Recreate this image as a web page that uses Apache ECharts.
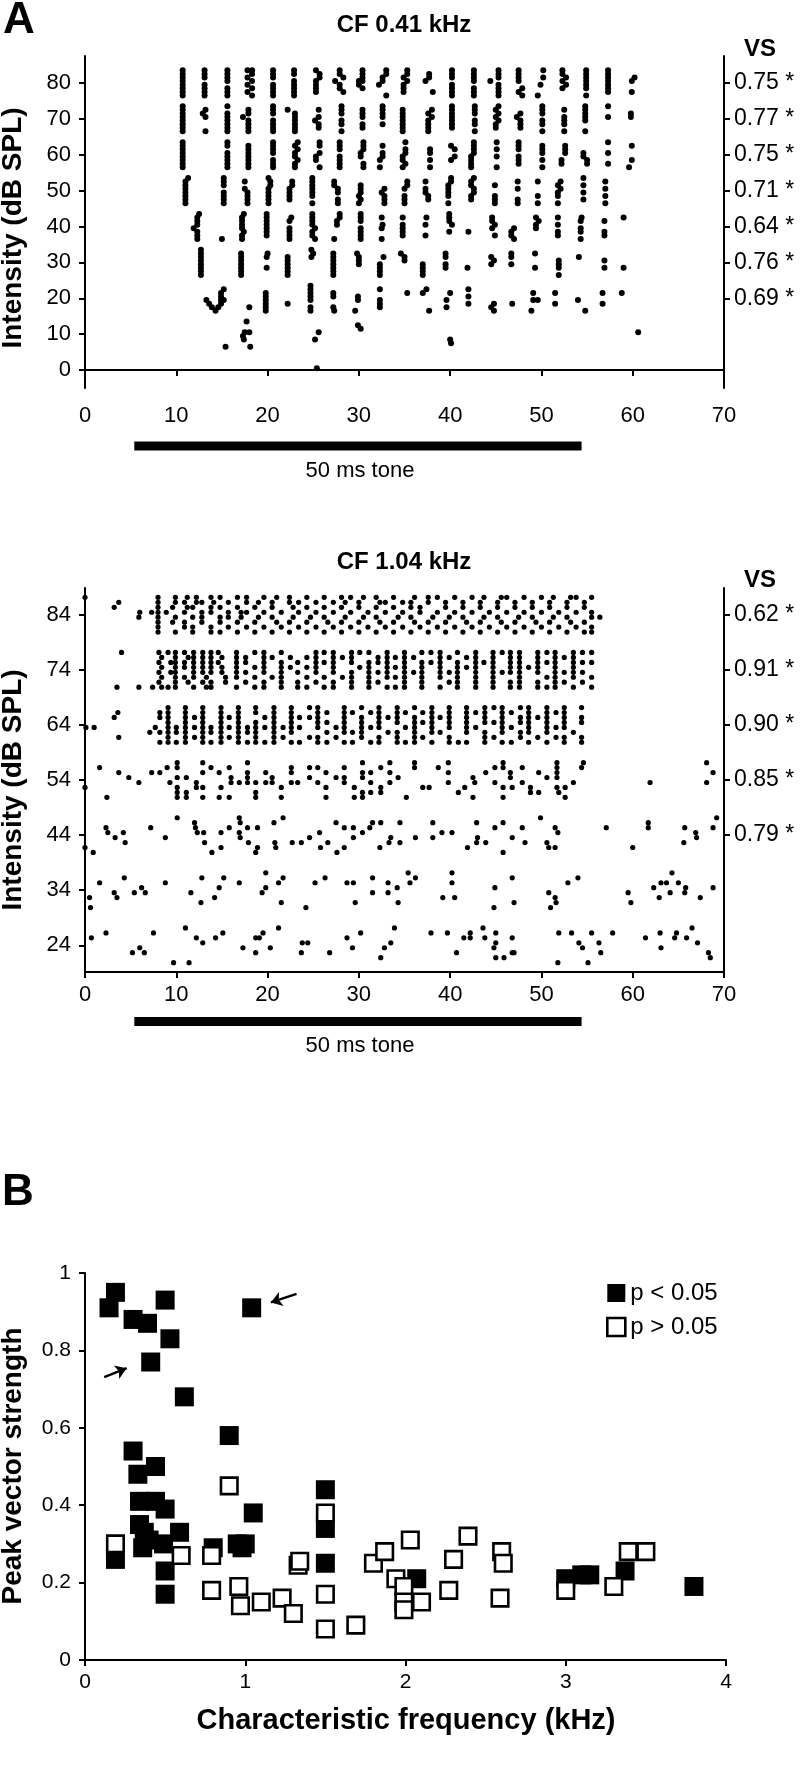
<!DOCTYPE html>
<html><head><meta charset="utf-8">
<script src="https://cdn.jsdelivr.net/npm/echarts@6/dist/echarts.min.js"></script>
<style>html,body{margin:0;padding:0;background:#fff}#c{width:806px;height:1784px}</style>
</head><body><div id="c"></div>
<script>
// ================= DATA =================
const timeMin = 0, timeMax = 70, timeStep = 10;      // ms
const toneWindow = [5.4, 54.4];                      // ms
const toneLabel = '50 ms tone';

// ---- Panel A, top: CF 0.41 kHz ----
const a1Title = 'CF 0.41 kHz';
const a1Levels = [80, 70, 60, 50, 40, 30, 20, 10, 0];           // dB SPL
const a1VSLevels = [80, 70, 60, 50, 40, 30, 20];
const a1VS = ['0.75 *', '0.77 *', '0.75 *', '0.71 *', '0.64 *', '0.76 *', '0.69 *'];
// each token "time(ms):trial indices (0 = lowest trial ... 7 = highest trial)"
const a1Spikes = [
  "10.7:01234567 13.1:0123567 15.6:0124567 17.8:1357 18.3:02467 20.6:0123567 22.9:0123467 25.3:12347 25.7:56 27.4:4 27.9:2367 28.3:15 30.0:34 30.4:24567 32.2:3 32.6:45 33.0:067 34.9:1235 35.3:467 37.3:4 37.7:56 38.1:1 40.2:0123567 42.6:0124567 44.4:4 45.3:0123567 47.5:14567 47.9:02 49.6:0 49.9:3 50.2:57 52.3:2467 52.7:35 54.9:0234567 57.3:1234567 59.9:14 60.2:5",
  "10.7:01234567 12.9:5 13.2:046 15.6:0123457 17.3:4 17.9:012356 20.6:0123567 22.2:6 23.0:012345 25.2:3 25.6:1246 28.1:023567 30.4:12456 32.6:24567 34.8:0123456 37.6:01235 38.0:46 40.2:1234567 42.7:023567 45.0:1246 45.3:357 47.3:4 47.7:1235 50.1:023567 52.5:02346 54.8:034567 57.3:47 59.8:45",
  "10.7:01234567 15.6:0123467 17.9:0123456 20.6:0124567 23.0:01346 23.3:257 25.3:23 25.7:0467 27.9:0123567 30.2:34 30.5:01567 32.3:02 32.6:346 34.8:023 35.1:1457 37.8:0245 40.1:26 40.5:35 42.3:0123 42.6:4567 45.1:0357 47.5:123567 50.1:02456 52.2:12 52.6:456 54.6:34 55.0:12 57.3:147 59.6:0 59.9:26",
  "11.0:0123456 11.3:7 15.2:0123567 17.5:46 17.8:0123 20.1:012347 20.3:56 22.4:1234 22.7:56 24.9:0234567 27.3:56 27.7:0134 30.0:02 30.2:1345 32.5:3 32.8:0124 35.0:0124 35.3:56 37.3:346 37.6:12 39.8:02345 40.1:67 42.3:1256 42.6:347 44.9:0125 47.4:0146 49.6:026 51.8:0235 52.1:46 54.6:1357 57.0:0246",
  "11.9:3 12.3:012456 12.5:7 15.0:0 17.2:013456 17.4:27 19.9:1234567 22.4:01235 22.6:6 24.9:124567 25.2:03 27.3:0 27.6:45 27.9:67 30.2:0123567 32.5:036 32.6:4 34.8:12346 37.3:14 37.4:6 39.9:2567 40.2:4 42.0:2 44.6:356 44.9:14 46.7:12 47.0:03 49.4:346 49.7:5 51.8:1246 54.3:0235 54.4:6 56.9:125 59.0:6",
  "12.7:01234567 17.1:0123456 19.9:25 20.0:6 22.2:012345 24.8:57 25.0:6 27.2:0123456 29.8:6 30.0:345 32.3:0123 32.7:5 34.6:6 35.0:45 37.0:0123 39.5:2356 41.9:2 44.5:35 44.8:4 46.7:356 49.3:26 51.9:0234 54.1:5 56.9:24 59.0:2",
  "13.3:3 13.6:2 13.9:1 14.3:0 14.6:1 14.9:2345 15.2:36 18.0:1 19.8:012345 22.2:2 24.7:0134567 27.2:145 27.3:0 29.6:0 29.9:34 32.3:1236 35.3:5 37.0:5 37.4:6 37.7:0 39.6:13 40.0:5 42.0:246 44.5:1 44.8:02 46.8:2 48.9:0 49.1:35 49.6:3 51.5:25 54.0:3 54.8:0 56.7:25 58.8:5",
  "15.4:0 17.3:3 17.4:2 17.5:4 17.7:7 18.0:4 18.1:0 25.2:2 25.6:4 29.9:6 30.2:5 40.0:2 40.1:1 60.6:4",
  "25.4:4"
];

// ---- Panel A, bottom: CF 1.04 kHz ----
const a2Title = 'CF 1.04 kHz';
const a2Levels = [84, 74, 64, 54, 44, 34, 24];
const a2VSLevels = [84, 74, 64, 54, 44];
const a2VS = ['0.62 *', '0.91 *', '0.90 *', '0.85 *', '0.79 *'];
const a2Spikes = [
  "0.0:7 3.2:5 3.7:6 5.9:3 6.0:4 7.3:4 8.0:01234567 8.9:4 9.6:25 9.9:0367 10.9:1246 11.2:57 11.8:0135 12.2:67 12.8:2346 13.8:01457 14.1:6 14.8:02357 15.7:1346 16.7:0257 17.1:34 17.7:1467 18.6:025 19.0:36 19.6:147 20.5:0356 21.0:27 21.5:14 22.4:0267 22.8:35 23.4:146 24.3:0257 24.7:3 25.3:146 26.2:0357 26.6:2 27.2:146 28.1:0257 28.5:36 29.1:147 30.0:0256 30.5:37 31.0:14 31.9:0357 32.3:26 32.9:146 33.8:0257 34.3:3 34.8:146 35.7:0356 36.1:27 36.7:145 37.6:0267 38.1:3 38.6:147 39.5:0256 39.9:3 40.5:147 41.4:0356 41.8:2 42.4:147 43.3:0256 43.7:37 44.3:14 45.2:0356 45.6:27 46.2:147 47.1:0256 47.5:3 48.1:147 49.0:0356 49.4:2 50.0:147 50.9:0256 51.3:37 51.9:14 52.8:0356 53.2:27 53.8:147 54.7:0256 55.5:01347 56.4:3",
  "3.5:0 4.0:7 5.9:0 7.4:0 8.1:1357 8.4:0246 9.1:07 9.4:35 9.9:01234567 10.9:2457 11.3:16 11.9:0234567 12.9:134567 13.3:02 13.8:0134567 14.6:57 15.0:346 15.4:12 16.6:0234567 17.6:1356 18.6:0247 19.6:0134567 20.5:26 21.5:0123457 22.5:46 23.3:0135 24.3:0246 25.3:134567 26.2:0257 27.2:0134567 28.2:26 29.2:0123567 30.1:47 31.1:0123457 32.1:1356 33.1:0234567 34.0:0246 35.0:01234567 36.0:36 36.9:0123457 37.9:57 38.9:0234567 39.9:136 40.8:0123457 41.8:46 42.8:01234567 43.7:5 44.7:01234567 45.7:37 46.6:0134567 47.6:01234567 48.6:4 49.6:0134567 50.6:0257 51.5:01234567 52.5:136 53.5:0234567 54.5:1357 55.5:0257",
  "0.1:3 1.0:3 3.2:5 3.6:6 3.7:1 7.1:2 7.7:3 8.2:0256 9.1:01234567 10.0:023 11.0:01234567 12.0:135 12.9:01234567 13.8:023 14.9:01234567 15.8:135 16.8:01234567 17.8:023 18.7:0123467 19.7:035 20.7:01234567 21.7:13 22.6:0234567 23.5:035 24.6:157 25.5:0134567 26.5:0246 27.5:13 28.4:0234567 29.3:026 30.3:123457 31.3:036 32.2:0134567 33.2:25 34.2:0124567 35.1:036 36.1:0123457 37.0:146 38.0:0234567 38.9:25 39.9:0134567 40.9:0 41.8:0234567 42.8:36 43.8:0124567 44.8:147 45.7:0234567 46.7:036 47.7:12457 48.6:0234567 49.6:15 50.6:0234567 51.6:136 52.5:0134567 53.5:2 54.4:01457",
  "0.0:2 1.6:6 2.4:0 3.7:5 4.8:4 5.9:3 7.3:5 8.2:5 9.0:6 9.3:3 10.1:012467 11.1:014 12.2:23 12.9:0257 13.8:6 14.7:05 14.9:2 15.8:06 16.0:34 16.9:3 17.8:3457 18.7:013 19.8:35 20.5:34 21.5:02 22.6:356 23.3:3 24.6:46 25.5:36 26.4:025 27.5:4 28.4:346 29.5:02 30.4:01457 31.3:135 32.4:126 33.4:357 34.3:4 35.2:0 36.1:67 37.0:2 37.7:2 38.7:6 39.8:357 40.9:1 41.6:2 42.5:04 42.7:3 43.9:5 44.9:36 45.8:0267 46.6:45 46.8:2 47.9:36 48.8:12 49.7:15 50.6:4 51.7:24567 51.9:1 52.6:02 53.5:3 54.4:6 54.6:7 61.9:3 68.1:37 68.8:5",
  "0.0:1 0.9:0 2.3:5 2.5:4 3.3:3 4.2:4 4.4:2 7.2:5 8.8:3 10.1:7 12.0:6 12.1:5 12.3:4 13.0:4 13.1:2 13.9:0 14.9:14 15.8:5 16.9:47 17.0:36 17.8:5 17.9:2 18.7:0 18.9:15 20.7:6 20.8:2 20.9:1 21.7:7 22.7:2 23.7:2 24.6:3 25.7:4 25.8:1 26.6:2 27.5:6 27.6:0 28.4:15 29.4:35 30.4:4 31.2:5 31.5:6 32.3:1 32.4:6 33.3:2 33.5:3 34.5:26 36.2:3 38.1:36 39.1:4 40.2:4 41.9:1 42.9:26 43.0:3 43.9:2 44.9:5 45.8:06 46.8:3 47.9:5 48.2:2 49.9:7 50.6:2 50.8:1 51.5:15 51.8:4 57.1:5 60.0:1 61.7:56 65.6:2 65.7:5 66.9:4 67.0:3 68.8:5 69.2:7",
  "0.5:2 0.6:0 1.6:5 3.2:3 3.5:2 4.3:6 5.4:3 6.2:4 6.6:3 8.8:5 11.6:3 12.7:1 12.8:6 14.2:2 14.7:4 15.2:6 16.9:5 19.4:3 19.8:47 21.2:5 21.5:1 21.7:6 24.2:0 25.2:5 26.3:6 28.7:5 29.4:5 29.6:1 31.5:36 33.2:35 34.2:4 34.3:1 35.4:7 35.6:5 36.2:6 39.2:2 40.2:57 40.5:2 44.8:0 44.9:4 46.8:6 47.0:1 50.8:3 51.0:0 51.5:2 51.6:1 52.9:5 54.0:6 59.5:3 59.8:1 62.3:4 62.9:2 63.1:5 63.7:5 64.1:3 64.3:7 65.0:5 65.7:3 65.8:4 67.4:2 68.8:4",
  "0.7:5 2.3:6 5.2:2 6.0:3 6.5:2 7.5:6 9.7:0 11.0:7 11.4:0 12.2:5 12.9:4 14.3:5 15.1:6 17.3:3 18.7:25 19.1:5 19.5:6 20.3:3 21.2:7 23.7:2 23.8:4 24.4:4 26.8:2 28.7:5 29.3:3 30.2:6 32.4:1 32.8:3 33.5:4 33.9:7 37.9:6 39.7:6 40.7:2 41.5:5 42.2:56 43.6:7 43.8:5 44.8:3 45.0:146 45.9:1 46.8:25 47.0:2 51.8:0 51.9:6 53.3:6 54.1:4 54.5:3 55.1:0 55.5:6 56.3:4 56.5:2 57.8:6 61.4:5 63.0:6 63.1:3 64.6:5 64.8:6 65.9:5 66.5:7 67.1:4 68.3:2 68.5:1"
];

// ---- Panel B ----
const bXTicksMax = 4;
const bSigLabel = 'p < 0.05';
const bNonSigLabel = 'p > 0.05';
const bSig = [[0.15,0.91],[0.19,0.95],[0.30,0.88],[0.39,0.87],[0.50,0.93],[0.53,0.83],[0.41,0.77],[1.04,0.91],
  [0.62,0.68],[0.90,0.58],[0.30,0.54],[0.44,0.50],[0.33,0.48],[0.34,0.41],[0.44,0.41],[0.50,0.39],[1.05,0.38],
  [1.50,0.44],[1.50,0.34],[1.50,0.25],[0.34,0.35],[0.37,0.33],[0.40,0.31],[0.36,0.29],[0.49,0.30],[0.59,0.33],
  [0.19,0.26],[0.50,0.23],[0.50,0.17],[0.80,0.29],[0.95,0.30],[1.00,0.30],[0.98,0.29],[2.07,0.21],[3.00,0.21],
  [3.10,0.22],[3.15,0.22],[3.37,0.23],[3.80,0.19]];
const bNonSig = [[0.19,0.30],[0.60,0.27],[0.79,0.27],[0.90,0.45],[0.79,0.18],[0.96,0.19],[0.97,0.14],[1.10,0.15],
  [1.23,0.16],[1.30,0.12],[1.33,0.245],[1.34,0.255],[1.50,0.38],[1.50,0.17],[1.50,0.08],[1.69,0.09],[1.80,0.25],
  [1.87,0.28],[1.94,0.21],[1.99,0.19],[2.03,0.31],[1.99,0.15],[1.99,0.13],[2.10,0.15],[2.27,0.18],[2.30,0.26],
  [2.39,0.32],[2.60,0.28],[2.61,0.25],[2.59,0.16],[3.00,0.18],[3.30,0.19],[3.39,0.28],[3.50,0.28]];
const bArrows = [[[1.32,0.946],[1.16,0.924]], [[0.12,0.731],[0.26,0.754]]];

// ================= BUILD =================
const TRIAL_CENTER = 3.5;
function rasterPoints(levels, rows, stepDb) {
  const pts = [];
  rows.forEach((row, i) => {
    row.trim().split(/\s+/).forEach(tok => {
      const parts = tok.split(':');
      const t = parseFloat(parts[0]);
      for (const ch of parts[1]) pts.push([t, levels[i] + (parseInt(ch, 10) - TRIAL_CENTER) * stepDb]);
    });
  });
  return pts;
}
const a1Points = rasterPoints(a1Levels, a1Spikes, 1.0);
const a2Points = rasterPoints(a2Levels, a2Spikes, 0.9);

const FONT = '"Liberation Sans", Arial, Helvetica, sans-serif';
const BLACK = '#000';
const axLine = { show: true, lineStyle: { color: BLACK, width: 2 } };
const axTick = { show: true, length: 6, lineStyle: { color: BLACK, width: 2 } };
const lbl = (extra) => Object.assign({ color: BLACK, fontSize: 22, fontFamily: FONT }, extra || {});

const A1 = { left: 85, top: 56, width: 639, height: 332 };
const A2 = { left: 85, top: 588, width: 639, height: 384 };
const B  = { left: 85, top: 1273, width: 641, height: 387 };

const grids = [
  A1,
  { left: A1.left, width: A1.width, top: 441.5, height: 9 },
  A2,
  { left: A2.left, width: A2.width, top: 1017, height: 9 },
  B
];

function timeAxis(gi, showIt, labelMargin) {
  return {
    gridIndex: gi, type: 'value', min: timeMin, max: timeMax, interval: timeStep, show: showIt,
    axisLine: axLine, axisTick: axTick, splitLine: { show: false },
    axisLabel: lbl({ margin: labelMargin })
  };
}
function hiddenY(gi) { return { gridIndex: gi, type: 'value', min: 0, max: 1, show: false }; }

const xAxes = [
  timeAxis(0, true, 17),
  timeAxis(1, false, 14),
  timeAxis(2, true, 12),
  timeAxis(3, false, 13),
  { gridIndex: 4, type: 'value', min: 0, max: bXTicksMax, interval: 1,
    axisLine: axLine, axisTick: axTick, splitLine: { show: false }, axisLabel: lbl({ margin: 12, fontSize: 21 }) }
];

function intensityAxes(gi, min, max, levels, vsLevels, vsLabels) {
  return [
    { gridIndex: gi, type: 'value', position: 'left', min: min, max: max,
      axisLine: axLine, axisTick: Object.assign({ customValues: levels }, axTick),
      splitLine: { show: false },
      axisLabel: lbl({ margin: 14, customValues: levels }) },
    { gridIndex: gi, type: 'value', position: 'right', min: min, max: max,
      axisLine: axLine, axisTick: Object.assign({ customValues: vsLevels }, axTick),
      splitLine: { show: false },
      axisLabel: lbl({ margin: 10, fontSize: 23, customValues: vsLevels,
        formatter: v => { const k = vsLevels.indexOf(Math.round(v)); return k >= 0 ? vsLabels[k] : ''; } }) }
  ];
}
const yA1 = intensityAxes(0, -5, 87.5, a1Levels, a1VSLevels, a1VS);
const yA2 = intensityAxes(2, 19.15, 88.85, a2Levels, a2VSLevels, a2VS);
const yAxes = [
  yA1[0], yA1[1],       // 0,1
  hiddenY(1),           // 2
  yA2[0], yA2[1],       // 3,4
  hiddenY(3),           // 5
  { gridIndex: 4, type: 'value', min: 0, max: 1, interval: 0.2,
    axisLine: axLine, axisTick: axTick, splitLine: { show: false }, axisLabel: lbl({ margin: 14, fontSize: 21 }) } // 6
];

const toneSeries = (xi, yi) => ({
  type: 'line', xAxisIndex: xi, yAxisIndex: yi, silent: true, symbol: 'none',
  data: [[toneWindow[0], 0.5], [toneWindow[1], 0.5]],
  lineStyle: { color: BLACK, width: 9, cap: 'butt' }
});

const series = [
  { type: 'scatter', xAxisIndex: 0, yAxisIndex: 0, data: a1Points, symbol: 'circle', symbolSize: 6,
    itemStyle: { color: BLACK, opacity: 1 }, silent: true },
  toneSeries(1, 2),
  { type: 'scatter', xAxisIndex: 2, yAxisIndex: 3, data: a2Points, symbol: 'circle', symbolSize: 5.2,
    itemStyle: { color: BLACK, opacity: 1 }, silent: true },
  toneSeries(3, 5),
  { name: bSigLabel, type: 'scatter', xAxisIndex: 4, yAxisIndex: 6, data: bSig, symbol: 'rect', symbolSize: 19,
    itemStyle: { color: BLACK, opacity: 1 }, silent: true, z: 3,
    markLine: { silent: true, symbol: ['none', 'arrow'], symbolSize: 11, label: { show: false },
      lineStyle: { color: BLACK, width: 2.5, type: 'solid', opacity: 1 }, emphasis: { disabled: true },
      data: bArrows.map(a => [{ coord: a[0] }, { coord: a[1] }]) } },
  { name: bNonSigLabel, type: 'scatter', xAxisIndex: 4, yAxisIndex: 6, data: bNonSig, symbol: 'rect', symbolSize: 16.5,
    itemStyle: { color: '#fff', borderColor: BLACK, borderWidth: 2.6, opacity: 1 }, silent: true, z: 4 }
];

const txt = (text, x, y, size, bold, rot) => ({
  type: 'text', x: x, y: y, rotation: rot || 0, silent: true,
  style: { text: text, fill: BLACK, fontSize: size, fontWeight: bold ? 'bold' : 'normal', fontFamily: FONT,
           align: 'center', verticalAlign: 'middle', textAlign: 'center', textVerticalAlign: 'middle' }
});
const graphics = [
  txt('A', 19, 21, 44, true),
  txt(a1Title, 404, 25, 24, true),
  txt('VS', 760, 49, 24, true),
  txt('Intensity (dB SPL)', 13, 228, 28, true, Math.PI / 2),
  txt(toneLabel, 360, 471, 22, false),
  txt(a2Title, 404, 562, 24, true),
  txt('VS', 760, 580, 24, true),
  txt('Intensity (dB SPL)', 13, 790, 28, true, Math.PI / 2),
  txt(toneLabel, 360, 1046, 22, false),
  txt('B', 18, 1193, 44, true),
  txt('Peak vector strength', 13, 1466, 28, true, Math.PI / 2),
  txt('Characteristic frequency (kHz)', 406, 1721, 29, true)
];

const chart = echarts.init(document.getElementById('c'), null, { renderer: 'canvas' });
chart.setOption({
  animation: false,
  backgroundColor: '#fff',
  grid: grids,
  xAxis: xAxes,
  yAxis: yAxes,
  series: series,
  legend: {
    data: [{ name: bSigLabel, icon: 'rect' },
           { name: bNonSigLabel, icon: 'rect', itemStyle: { color: '#fff', borderColor: BLACK, borderWidth: 2.6 } }],
    orient: 'vertical', left: 601, top: 1276, itemWidth: 18, itemHeight: 18, itemGap: 10,
    selectedMode: false, textStyle: { color: BLACK, fontSize: 24, fontFamily: FONT }
  },
  graphic: graphics
});
</script>
</body></html>
